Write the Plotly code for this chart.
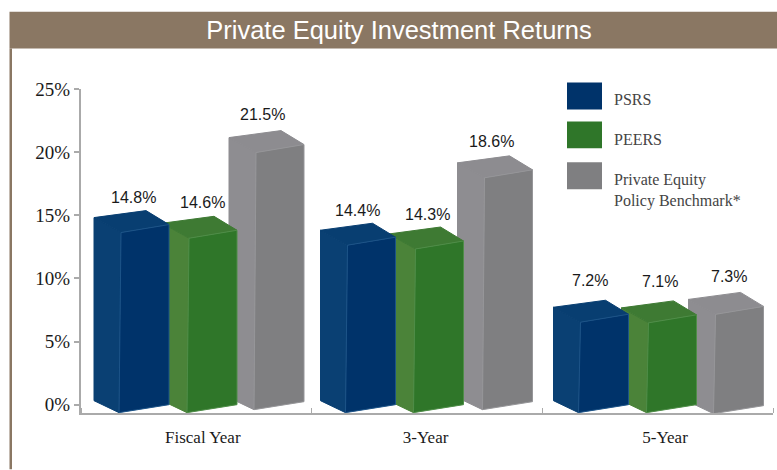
import plotly.graph_objects as go

# ---- data -------------------------------------------------------------
categories = ["Fiscal Year", "3-Year", "5-Year"]
series_names = ["PSRS", "PEERS", "Private Equity<br>Policy Benchmark*"]
psrs_labels = [14.8, 14.4, 7.2]
peers_labels = [14.6, 14.3, 7.1]
bench_labels = [21.5, 18.6, 7.3]
# heights of the drawn 3-D columns, read against the axis
psrs_heights = [14.5, 13.5, 7.4]
peers_heights = [14.05, 13.2, 7.35]
bench_heights = [20.6, 18.6, 8.1]
y_ticks = [0, 5, 10, 15, 20, 25]

# ---- layout geometry --------------------------------------------------
W, H = 777, 470
PL, PR, PT, PB = 81, 773, 88.5, 413.5
Y_MIN, Y_MAX = -0.66, 25
XU = (PR - PL) / 3
YU = (PB - PT) / (Y_MAX - Y_MIN)

def dx(px):
    return px / XU

def dy(px):
    return px / YU

GROUP_OFFSET = [dx(13), dx(239.5), dx(472.5)]
SERIES_OFFSET = [0, dx(68), dx(135)]
SERIES_NUDGE = [[0, 0, 0], [0, 0, 0], [0, dx(2), 0]]
SIDE = dx(25)
FRONT = dx(50)
BACK = dx(52)
FLOOR = [
    [dy(4), dy(4), dy(4)],
    [dy(4), dy(4), dy(4)],
    [dy(7), dy(7), dy(3)],
]
FRONT_DROP = dy(12)
RIGHT_DROP = dy(4)
TOP_BACK = dy(7)
TOP_FRONT_L = dy(15)
TOP_FRONT_R = dy(7)

COLORS = [
    dict(front="#00336a", side="#0a4073", top="#083e71", edge="#1d5488"),
    dict(front="#2f7629", side="#4b8339", top="#3e7a33", edge="#4f8d48"),
    dict(front="#7f7f81", side="#8e8d91", top="#8d8c90", edge="#969699"),
]
HEIGHTS = [psrs_heights, peers_heights, bench_heights]
LABELS = [psrs_labels, peers_labels, bench_labels]
LABEL_SHIFT = [[13, 13, 20], [14, 13, 19], [16, 14, 16]]
LABEL_DX = [[dx(39), dx(37), dx(36)], [dx(40), dx(39), dx(38)], [dx(33), dx(34), dx(40)]]

fig = go.Figure()
annotations = []


def poly(xs, ys, color, edge=None, name=""):
    fig.add_trace(go.Scatter(
        x=xs + xs[:1], y=ys + ys[:1], mode="lines", fill="toself", fillcolor=color,
        line=dict(color=edge or color, width=1), hoverinfo="skip", name=name,
        showlegend=False,
    ))


for s in (2, 1, 0):
    c = COLORS[s]
    for g in (0, 1, 2):
        h = HEIGHTS[s][g]
        L = GROUP_OFFSET[g] + SERIES_OFFSET[s] + SERIES_NUDGE[s][g]
        fl, fr, bk = L + SIDE, L + SIDE + FRONT, L + BACK
        floor = FLOOR[s][g]
        top = floor + h
        nm = series_names[s].replace("<br>", " ")
        poly([L, fl, fl + dx(2), L], [floor, floor - FRONT_DROP, top - TOP_FRONT_L, top], c["side"], name=nm)
        poly([L, bk, fr, fl + dx(2)], [top, top + TOP_BACK, top - TOP_FRONT_R, top - TOP_FRONT_L], c["top"], name=nm)
        poly([fl, fr, fr, fl + dx(2)], [floor - FRONT_DROP, floor - RIGHT_DROP, top - TOP_FRONT_R, top - TOP_FRONT_L],
             c["front"], c["edge"], name=nm)
        annotations.append(dict(
            x=L + LABEL_DX[s][g], y=top + TOP_BACK, xref="x", yref="y", yshift=LABEL_SHIFT[s][g],
            text=f"{LABELS[s][g]:.1f}%", showarrow=False, xanchor="center", yanchor="middle",
            font=dict(family="Liberation Sans", size=16, color="#1a1a1a"),
        ))


def px_x(p):
    return (p - PL) / (PR - PL)


def px_y(p):
    return (PB - p) / (PB - PT)


shapes = [
    dict(type="rect", xref="paper", yref="paper", x0=px_x(9.5), x1=px_x(777), y0=px_y(48), y1=px_y(11),
         fillcolor="#8a7763", line_width=0, layer="below"),
    dict(type="rect", xref="paper", yref="paper", x0=px_x(9.5), x1=px_x(12), y0=px_y(470), y1=px_y(48),
         fillcolor="#8a7763", line_width=0, layer="below"),
]
SWATCH_TOPS = [82, 121, 162]
TEXT_MIDS = [99, 139, 190]
for s in range(3):
    shapes.append(dict(type="rect", xref="paper", yref="paper", x0=px_x(567), x1=px_x(602),
                       y0=px_y(SWATCH_TOPS[s] + 27), y1=px_y(SWATCH_TOPS[s]),
                       fillcolor=COLORS[s]["front"], line_width=0))
    annotations.append(dict(
        x=px_x(612), y=px_y(TEXT_MIDS[s]), xref="paper", yref="paper", text=series_names[s], align="left",
        showarrow=False, xanchor="left", yanchor="middle",
        font=dict(family="Liberation Serif", size=16, color="#444444"),
    ))

fig.update_layout(
    width=W, height=H, autosize=False,
    margin=dict(l=PL, r=W - PR, t=PT, b=H - PB, pad=0),
    paper_bgcolor="white", plot_bgcolor="white", showlegend=False,
    title=dict(text="Private Equity Investment Returns", x=399 / W, xref="container",
               xanchor="center", y=1 - 30 / H, yanchor="middle",
               font=dict(family="Liberation Sans", size=25.5, color="white")),
    xaxis=dict(
        range=[0, 3], showgrid=False, zeroline=False, showline=True, linecolor="#aaaaaa", linewidth=2,
        tickvals=[0.528, 1.494, 2.532], ticktext=categories, ticks="", ticklabelstandoff=8,
        tickfont=dict(family="Liberation Serif", size=17, color="#1a1a1a"),
        minor=dict(tickvals=[0, 1, 2, 3], ticks="inside", ticklen=5, tickwidth=1, tickcolor="#aaaaaa"),
    ),
    yaxis=dict(
        range=[Y_MIN, Y_MAX], showgrid=False, zeroline=False, showline=True, linecolor="#aaaaaa", linewidth=2,
        tickvals=y_ticks, ticktext=[f"{t}%" for t in y_ticks], ticks="outside", ticklen=5, tickwidth=1.5,
        tickcolor="#aaaaaa", tickfont=dict(family="Liberation Serif", size=19, color="#1a1a1a"),
    ),
    shapes=shapes,
    annotations=annotations,
)

fig.write_html("out.html", config=dict(displayModeBar=False),
               post_script="document.body.style.margin='0';document.body.style.overflow='hidden';")
